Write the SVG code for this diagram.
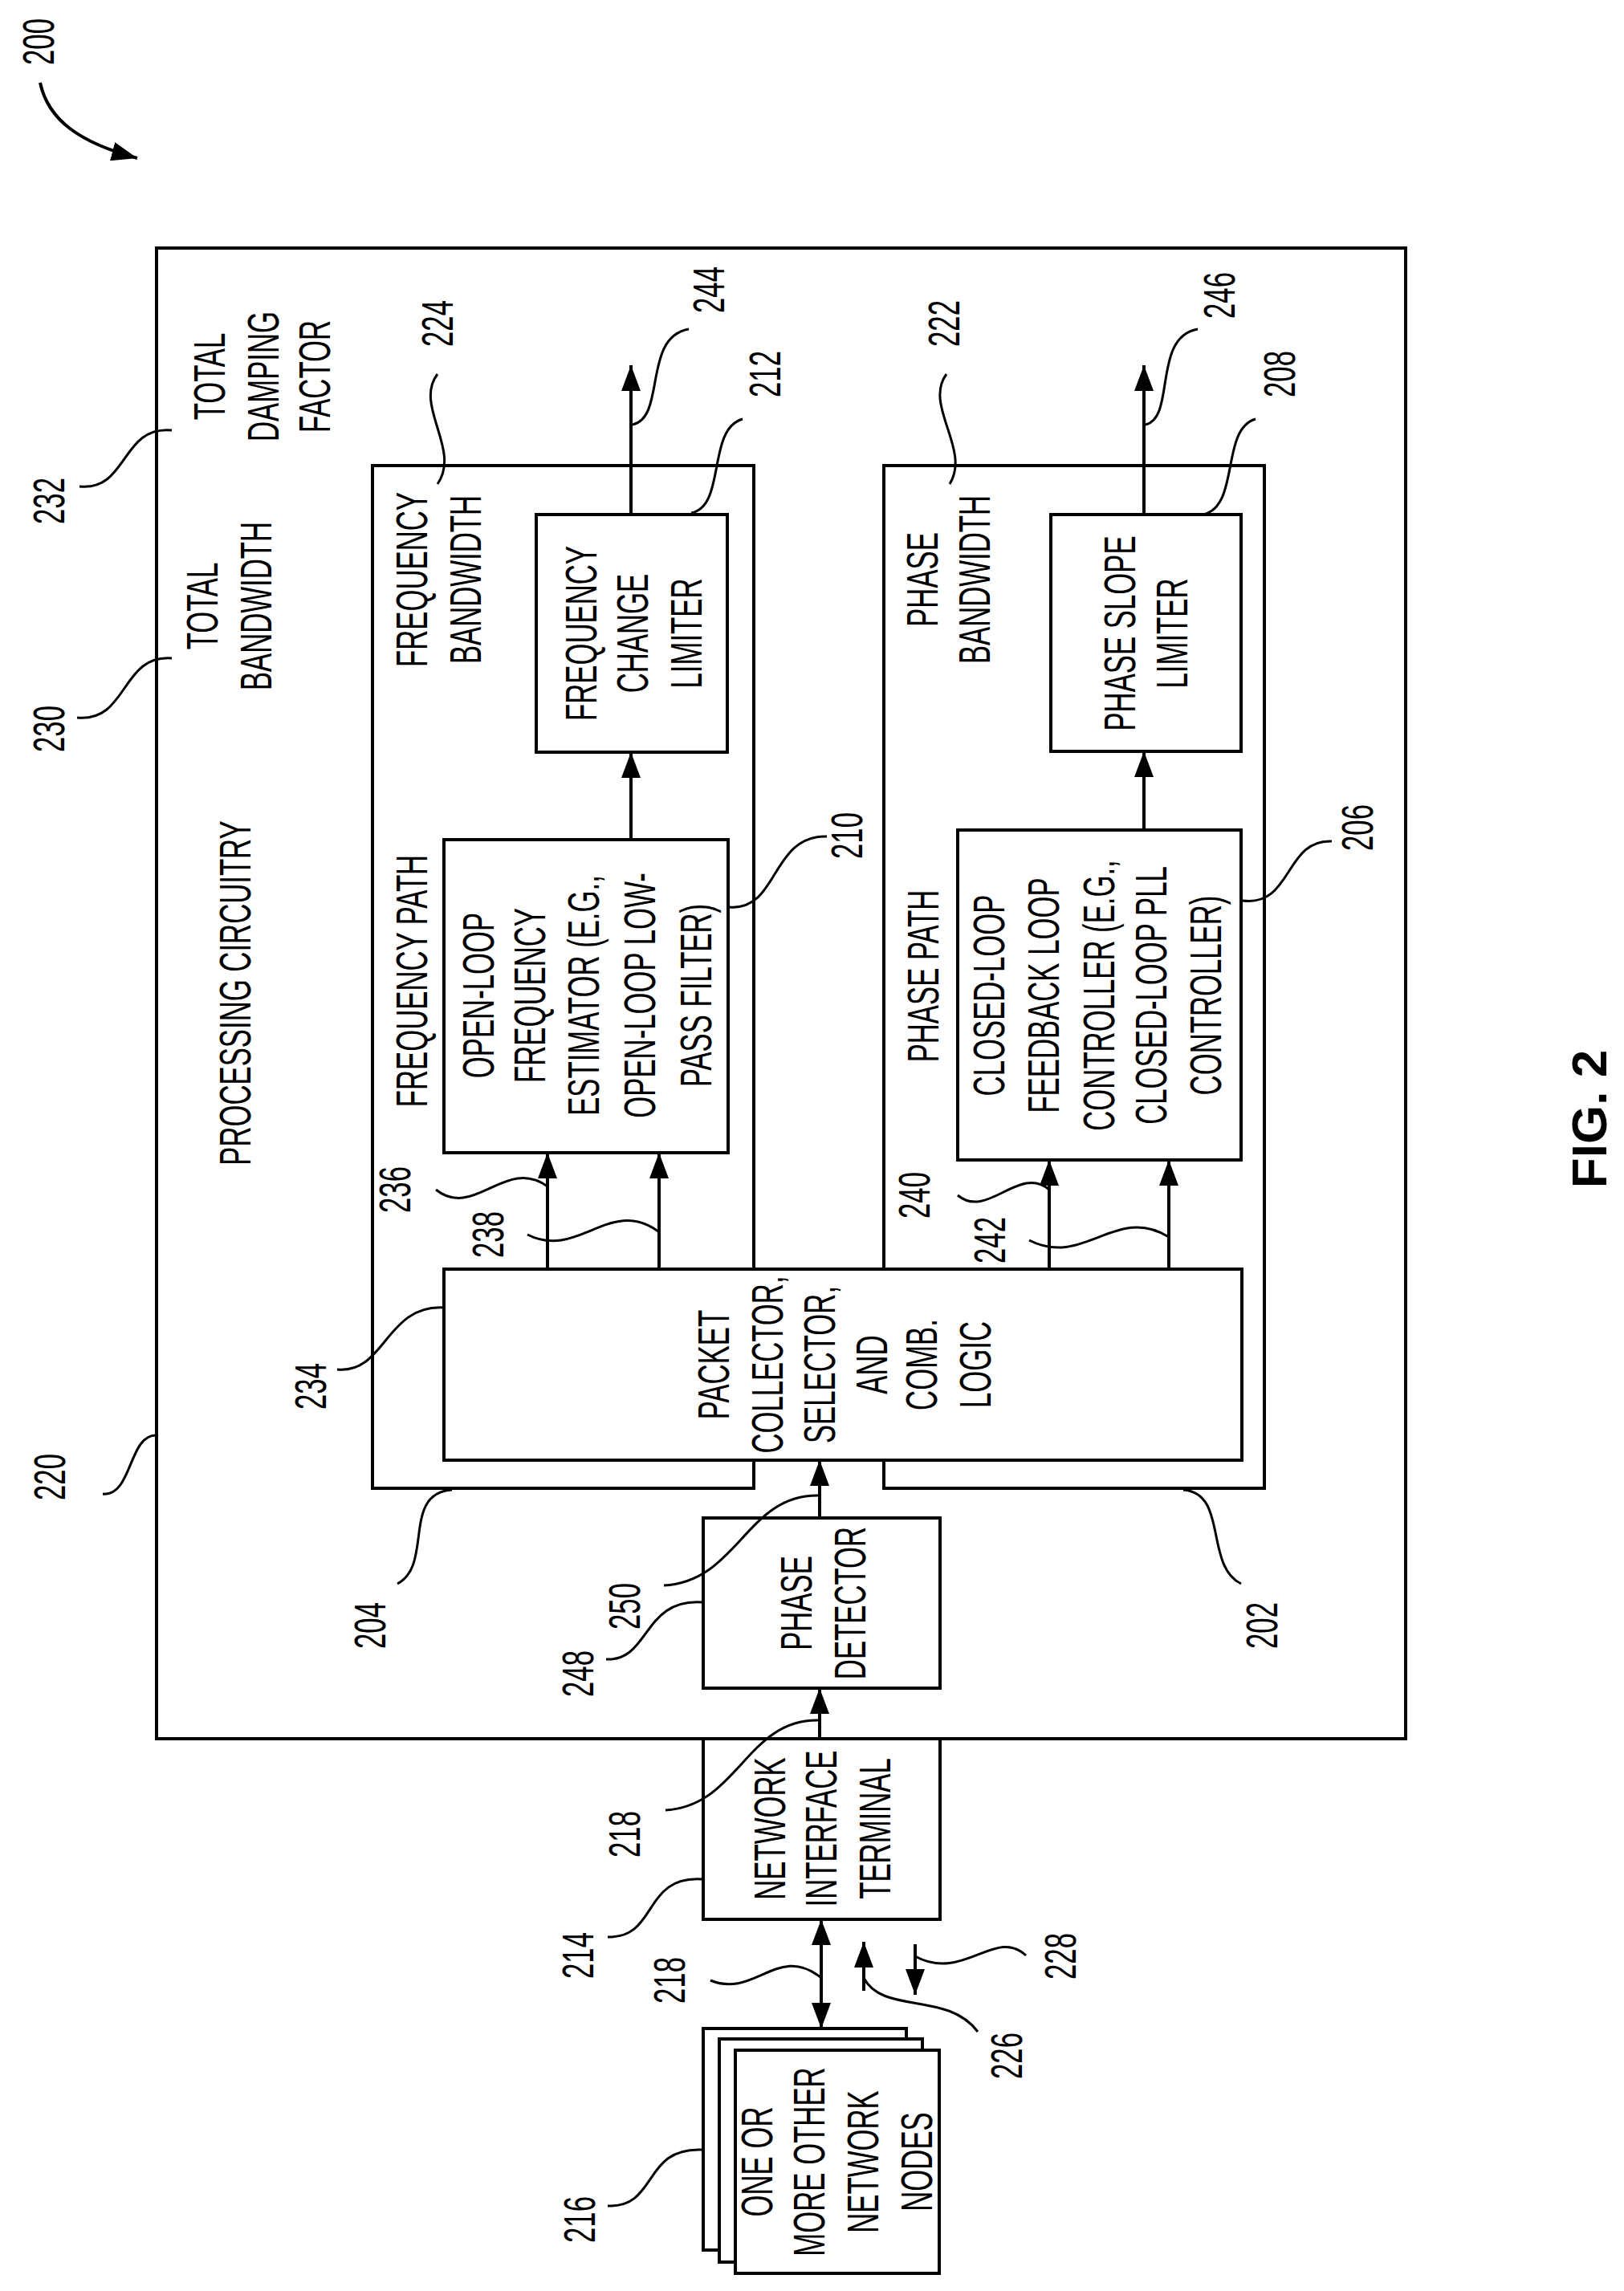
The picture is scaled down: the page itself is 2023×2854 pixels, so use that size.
<svg xmlns="http://www.w3.org/2000/svg" width="2023" height="2854" viewBox="0 0 2023 2854">
<style>
.b{fill:#fff;stroke:#000;stroke-width:4}
.c{fill:none;stroke:#000;stroke-width:4}
.l{fill:none;stroke:#000;stroke-width:3}
.t{font-family:"Liberation Sans",Arial,sans-serif;font-size:56px;fill:#000;text-anchor:middle;dominant-baseline:central}
.f{font-family:"Liberation Sans",Arial,sans-serif;font-size:62px;font-weight:bold;fill:#000;text-anchor:middle;dominant-baseline:central}
</style>
<defs>
<marker id="a" viewBox="0 0 10 10" refX="10" refY="5" markerWidth="32" markerHeight="24" markerUnits="userSpaceOnUse" preserveAspectRatio="none" orient="auto-start-reverse"><path d="M0 0L10 5L0 10z" fill="#000"/></marker>
</defs>
<g id="n220"><rect class="b" x="195" y="309" width="1556" height="1857"/>
<text class="t" transform="translate(293,1237) rotate(-90) scale(0.62,1)">PROCESSING CIRCUITRY</text>
<text class="t" transform="translate(252,755) rotate(-90) scale(0.62,1)">TOTAL</text>
<text class="t" transform="translate(319,755) rotate(-90) scale(0.62,1)">BANDWIDTH</text>
<text class="t" transform="translate(261,469) rotate(-90) scale(0.62,1)">TOTAL</text>
<text class="t" transform="translate(328,469) rotate(-90) scale(0.62,1)">DAMPING</text>
<text class="t" transform="translate(392,469) rotate(-90) scale(0.62,1)">FACTOR</text>
</g>
<g id="n204"><rect class="b" x="464" y="580" width="475" height="1274"/>
<text class="t" transform="translate(513,722) rotate(-90) scale(0.62,1)">FREQUENCY</text>
<text class="t" transform="translate(580,722) rotate(-90) scale(0.62,1)">BANDWIDTH</text>
<text class="t" transform="translate(513,1222) rotate(-90) scale(0.62,1)">FREQUENCY PATH</text>
</g>
<g id="n202"><rect class="b" x="1101" y="580" width="474" height="1274"/>
<text class="t" transform="translate(1149,722) rotate(-90) scale(0.62,1)">PHASE</text>
<text class="t" transform="translate(1214,722) rotate(-90) scale(0.62,1)">BANDWIDTH</text>
<text class="t" transform="translate(1150,1216) rotate(-90) scale(0.62,1)">PHASE PATH</text>
</g>
<g id="n212"><rect class="b" x="668" y="641" width="238" height="296"/>
<text class="t" transform="translate(724,789) rotate(-90) scale(0.62,1)">FREQUENCY</text>
<text class="t" transform="translate(788,789) rotate(-90) scale(0.62,1)">CHANGE</text>
<text class="t" transform="translate(855,789) rotate(-90) scale(0.62,1)">LIMITER</text>
</g>
<g id="n208"><rect class="b" x="1309" y="641" width="237" height="295"/>
<text class="t" transform="translate(1395,789) rotate(-90) scale(0.62,1)">PHASE SLOPE</text>
<text class="t" transform="translate(1460,789) rotate(-90) scale(0.62,1)">LIMITER</text>
</g>
<g id="n210"><rect class="b" x="553" y="1046" width="354" height="390"/>
<text class="t" transform="translate(596,1240) rotate(-90) scale(0.62,1)">OPEN-LOOP</text>
<text class="t" transform="translate(660,1240) rotate(-90) scale(0.62,1)">FREQUENCY</text>
<text class="t" transform="translate(727,1240) rotate(-90) scale(0.62,1)">ESTIMATOR (E.G.,</text>
<text class="t" transform="translate(797,1240) rotate(-90) scale(0.62,1)">OPEN-LOOP LOW-</text>
<text class="t" transform="translate(867,1240) rotate(-90) scale(0.62,1)">PASS FILTER)</text>
</g>
<g id="n206"><rect class="b" x="1193" y="1034" width="353" height="411"/>
<text class="t" transform="translate(1232,1240) rotate(-90) scale(0.62,1)">CLOSED-LOOP</text>
<text class="t" transform="translate(1300,1240) rotate(-90) scale(0.62,1)">FEEDBACK LOOP</text>
<text class="t" transform="translate(1369,1240) rotate(-90) scale(0.62,1)">CONTROLLER (E.G.,</text>
<text class="t" transform="translate(1434,1240) rotate(-90) scale(0.62,1)">CLOSED-LOOP PLL</text>
<text class="t" transform="translate(1502,1240) rotate(-90) scale(0.62,1)">CONTROLLER)</text>
</g>
<g id="n234"><rect class="b" x="553" y="1581" width="994" height="238"/>
<text class="t" transform="translate(889,1700) rotate(-90) scale(0.62,1)">PACKET</text>
<text class="t" transform="translate(956,1700) rotate(-90) scale(0.62,1)">COLLECTOR,</text>
<text class="t" transform="translate(1021,1700) rotate(-90) scale(0.62,1)">SELECTOR,</text>
<text class="t" transform="translate(1086,1700) rotate(-90) scale(0.62,1)">AND</text>
<text class="t" transform="translate(1148,1700) rotate(-90) scale(0.62,1)">COMB.</text>
<text class="t" transform="translate(1215,1700) rotate(-90) scale(0.62,1)">LOGIC</text>
</g>
<g id="n248"><rect class="b" x="876" y="1891" width="295" height="212"/>
<text class="t" transform="translate(992,1997) rotate(-90) scale(0.62,1)">PHASE</text>
<text class="t" transform="translate(1059,1997) rotate(-90) scale(0.62,1)">DETECTOR</text>
</g>
<g id="n214"><rect class="b" x="876" y="2166" width="295" height="225"/>
<text class="t" transform="translate(959,2278) rotate(-90) scale(0.62,1)">NETWORK</text>
<text class="t" transform="translate(1023,2278) rotate(-90) scale(0.62,1)">INTERFACE</text>
<text class="t" transform="translate(1090,2278) rotate(-90) scale(0.62,1)">TERMINAL</text>
</g>
<g id="n216"><rect class="b" x="876" y="2527" width="253" height="276"/>
<rect class="b" x="896" y="2540" width="253" height="278"/>
<rect class="b" x="916" y="2554" width="254" height="278"/>
<text class="t" transform="translate(943,2693) rotate(-90) scale(0.62,1)">ONE OR</text>
<text class="t" transform="translate(1008,2693) rotate(-90) scale(0.62,1)">MORE OTHER</text>
<text class="t" transform="translate(1075,2693) rotate(-90) scale(0.62,1)">NETWORK</text>
<text class="t" transform="translate(1142,2693) rotate(-90) scale(0.62,1)">NODES</text>
</g>
<g id="connectors">
<path class="c" d="M786 641V455" marker-end="url(#a)"/>
<path class="c" d="M786 1046V937" marker-end="url(#a)"/>
<path class="c" d="M1425 641V455" marker-end="url(#a)"/>
<path class="c" d="M1425 1034V936" marker-end="url(#a)"/>
<path class="c" d="M682 1581V1436" marker-end="url(#a)"/>
<path class="c" d="M821 1581V1436" marker-end="url(#a)"/>
<path class="c" d="M1307 1581V1445" marker-end="url(#a)"/>
<path class="c" d="M1456 1581V1445" marker-end="url(#a)"/>
<path class="c" d="M1021 1891V1819" marker-end="url(#a)"/>
<path class="c" d="M1021 2166V2103" marker-end="url(#a)"/>
<path class="c" d="M1023 2391V2527" marker-start="url(#a)" marker-end="url(#a)"/>
<path class="c" d="M1076 2480V2419" marker-end="url(#a)"/>
<path class="c" d="M1140 2422V2485" marker-end="url(#a)"/>
<path class="c" d="M50 103C60 150 100 178 171 197" marker-end="url(#a)"/>
</g>
<g id="leaders">
<path class="l" d="M96 894C160 900 150 815 214 820"/>
<path class="l" d="M99 606C160 612 150 530 214 536"/>
<path class="l" d="M128 1861C165 1865 160 1785 196 1788"/>
<path class="l" d="M545 466C515 505 575 560 545 603"/>
<path class="l" d="M858 410C800 420 830 520 788 529"/>
<path class="l" d="M925 522C880 535 905 630 861 639"/>
<path class="l" d="M1179 466C1150 505 1210 560 1183 603"/>
<path class="l" d="M1492 410C1435 420 1465 520 1427 529"/>
<path class="l" d="M1564 522C1520 535 1545 630 1499 641"/>
<path class="l" d="M909 1130C970 1135 960 1040 1030 1042"/>
<path class="l" d="M1548 1122C1610 1130 1600 1045 1659 1048"/>
<path class="l" d="M543 1482C590 1520 630 1440 682 1478"/>
<path class="l" d="M657 1538C720 1570 760 1490 820 1534"/>
<path class="l" d="M1193 1489C1230 1520 1270 1450 1307 1482"/>
<path class="l" d="M1282 1545C1350 1580 1390 1500 1456 1541"/>
<path class="l" d="M420 1706C480 1712 480 1625 553 1629"/>
<path class="l" d="M495 1973C540 1950 500 1860 563 1856"/>
<path class="l" d="M1546 1973C1500 1950 1530 1860 1474 1856"/>
<path class="l" d="M827 1975C920 1970 930 1860 1021 1863"/>
<path class="l" d="M755 2067C810 2070 800 1990 876 1996"/>
<path class="l" d="M829 2255C920 2250 930 2140 1021 2143"/>
<path class="l" d="M757 2413C820 2415 800 2335 876 2341"/>
<path class="l" d="M885 2467C940 2490 970 2420 1023 2464"/>
<path class="l" d="M1218 2531C1180 2480 1100 2510 1076 2464"/>
<path class="l" d="M1278 2436C1240 2400 1200 2470 1140 2437"/>
<path class="l" d="M757 2748C820 2750 800 2675 874 2678"/>
</g>
<g id="labels">
<text class="t" transform="translate(48,52) rotate(-90) scale(0.62,1)">200</text>
<text class="t" transform="translate(62,1840) rotate(-90) scale(0.62,1)">220</text>
<text class="t" transform="translate(61,908) rotate(-90) scale(0.62,1)">230</text>
<text class="t" transform="translate(61,624) rotate(-90) scale(0.62,1)">232</text>
<text class="t" transform="translate(545,403) rotate(-90) scale(0.62,1)">224</text>
<text class="t" transform="translate(883,361) rotate(-90) scale(0.62,1)">244</text>
<text class="t" transform="translate(953,466) rotate(-90) scale(0.62,1)">212</text>
<text class="t" transform="translate(1176,403) rotate(-90) scale(0.62,1)">222</text>
<text class="t" transform="translate(1519,368) rotate(-90) scale(0.62,1)">246</text>
<text class="t" transform="translate(1594,466) rotate(-90) scale(0.62,1)">208</text>
<text class="t" transform="translate(1055,1041) rotate(-90) scale(0.62,1)">210</text>
<text class="t" transform="translate(1691,1031) rotate(-90) scale(0.62,1)">206</text>
<text class="t" transform="translate(492,1482) rotate(-90) scale(0.62,1)">236</text>
<text class="t" transform="translate(608,1538) rotate(-90) scale(0.62,1)">238</text>
<text class="t" transform="translate(1139,1489) rotate(-90) scale(0.62,1)">240</text>
<text class="t" transform="translate(1233,1545) rotate(-90) scale(0.62,1)">242</text>
<text class="t" transform="translate(387,1727) rotate(-90) scale(0.62,1)">234</text>
<text class="t" transform="translate(461,2025) rotate(-90) scale(0.62,1)">204</text>
<text class="t" transform="translate(1572,2025) rotate(-90) scale(0.62,1)">202</text>
<text class="t" transform="translate(778,2001) rotate(-90) scale(0.62,1)">250</text>
<text class="t" transform="translate(720,2085) rotate(-90) scale(0.62,1)">248</text>
<text class="t" transform="translate(778,2285) rotate(-90) scale(0.62,1)">218</text>
<text class="t" transform="translate(720,2436) rotate(-90) scale(0.62,1)">214</text>
<text class="t" transform="translate(834,2467) rotate(-90) scale(0.62,1)">218</text>
<text class="t" transform="translate(1254,2561) rotate(-90) scale(0.62,1)">226</text>
<text class="t" transform="translate(1321,2437) rotate(-90) scale(0.62,1)">228</text>
<text class="t" transform="translate(722,2765) rotate(-90) scale(0.62,1)">216</text>
<text class="f" transform="translate(1979,1394) rotate(-90)">FIG. 2</text>
</g>
</svg>
